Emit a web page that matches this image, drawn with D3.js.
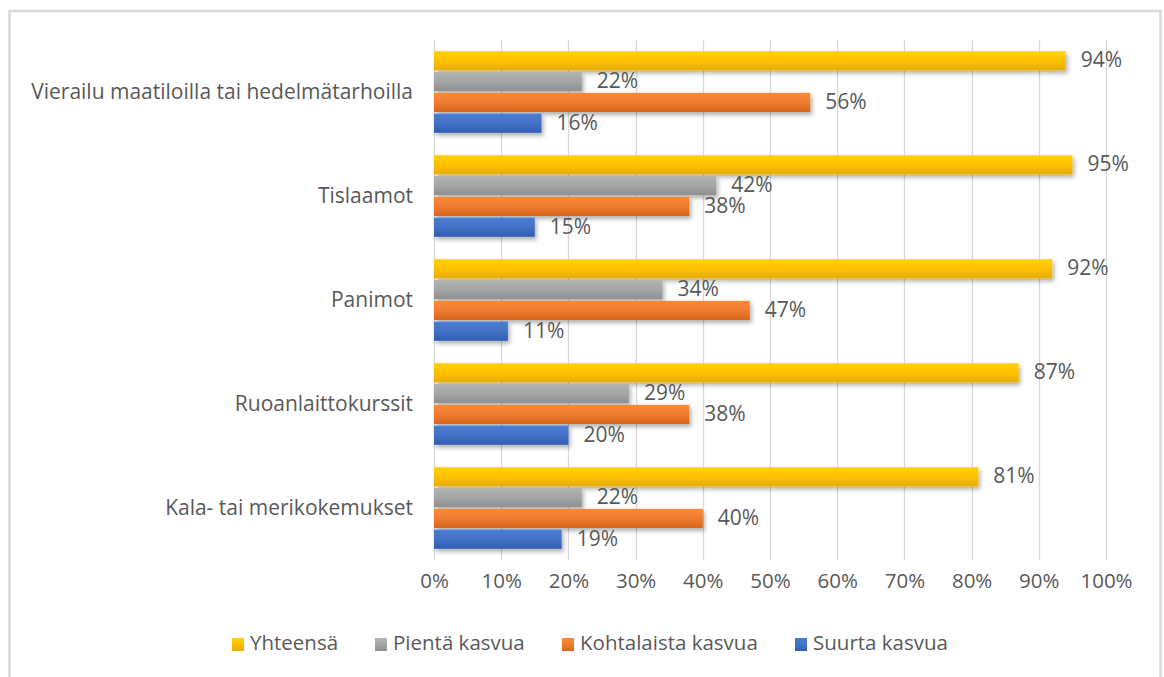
<!DOCTYPE html>
<html>
<head>
<meta charset="utf-8">
<script src="https://cdn.jsdelivr.net/npm/d3@7"></script>
<style>
  body { margin: 0; background: #fff; }
  text { font-family: "Open Sans", "Noto Sans", sans-serif; fill: #595959; }
</style>
</head>
<body>
<div id="chart"></div>
<script>
var categories = ["Vierailu maatiloilla tai hedelmätarhoilla", "Tislaamot", "Panimot", "Ruoanlaittokurssit", "Kala- tai merikokemukset"]
var seriesNames = ["Yhteensä", "Pientä kasvua", "Kohtalaista kasvua", "Suurta kasvua"]
var yhteensa = [94, 95, 92, 87, 81]
var pienta = [22, 42, 34, 29, 22]
var kohtalaista = [56, 38, 47, 38, 40]
var suurta = [16, 15, 11, 20, 19]
var ticks = [0, 10, 20, 30, 40, 50, 60, 70, 80, 90, 100]
var colors = ["#FFC000", "#A5A5A5", "#ED7D31", "#4472C4"]
var darkColors = ["#E8AC00", "#8F8F8F", "#D9651B", "#2F5DB5"]

var values = [yhteensa, pienta, kohtalaista, suurta]

var width = 1164, height = 677

var svg = d3.select('#chart')
    .append('svg')
    .attr('width', width)
    .attr('height', height)

var defs = svg.append('defs')
var shadow = defs.append('filter')
    .attr('id', 'shadow')
    .attr('x', '-5%').attr('y', '-30%')
    .attr('width', '115%').attr('height', '180%')
shadow.append('feDropShadow')
    .attr('dx', 2).attr('dy', 3)
    .attr('stdDeviation', 2)
    .attr('flood-color', '#000')
    .attr('flood-opacity', 0.3)

colors.forEach(function(c, i) {
    var g = defs.append('linearGradient')
        .attr('id', 'grad' + i)
        .attr('x1', 0).attr('y1', 0).attr('x2', 0).attr('y2', 1)
    g.append('stop').attr('offset', '0%').attr('stop-color', d3.color(c).brighter(0.25))
    g.append('stop').attr('offset', '50%').attr('stop-color', c)
    g.append('stop').attr('offset', '100%').attr('stop-color', darkColors[i])
})

// frame
svg.append('rect')
    .attr('x', 9.5).attr('y', 11)
    .attr('width', 1151).attr('height', 700)
    .attr('fill', 'none')
    .attr('stroke', '#d9d9d9')
    .attr('stroke-width', 2.5)

var scaleX = d3.scaleLinear()
    .domain([0, 100])
    .range([434, 1106])

var scaleY = d3.scaleBand()
    .domain(categories)
    .range([40, 560])
    .paddingInner(0.2)
    .paddingOuter(0.1)

var scaleSeries = d3.scaleBand()
    .domain(seriesNames)
    .range([0, scaleY.bandwidth()])

// gridlines
svg.append('g')
    .selectAll('line')
    .data(ticks)
    .enter()
    .append('line')
    .attr('x1', function(d){return Math.round(scaleX(d)) + 0.5})
    .attr('x2', function(d){return Math.round(scaleX(d)) + 0.5})
    .attr('y1', 40)
    .attr('y2', 560)
    .attr('stroke', '#d9d9d9')
    .attr('stroke-width', 1.3)

// x axis
var xAxis = svg.append('g')
    .attr('transform', 'translate(0,560)')
    .call(d3.axisBottom(scaleX).tickValues(ticks).tickSize(0).tickPadding(13).tickFormat(function(d){return d + '%'}))
xAxis.select('.domain').remove()
xAxis.selectAll('text')
    .style('font-size', '20.5px')
    .attr('fill', '#595959')

// y axis
var yAxis = svg.append('g')
    .attr('transform', 'translate(434,0)')
    .call(d3.axisLeft(scaleY).tickSize(0).tickPadding(21))
yAxis.select('.domain').remove()
yAxis.selectAll('text')
    .style('font-size', '21px')
    .attr('fill', '#595959')

// bars
var rows = []
categories.forEach(function(c, ci) {
    seriesNames.forEach(function(s, si) {
        rows.push({cat: c, series: s, si: si, value: values[si][ci]})
    })
})

var rectG = svg.append('g')
rectG.selectAll('rect')
    .data(rows)
    .enter()
    .append('rect')
    .attr('x', scaleX(0))
    .attr('y', function(d){return scaleY(d.cat) + scaleSeries(d.series) + 0.8})
    .attr('width', function(d){return scaleX(d.value) - scaleX(0)})
    .attr('height', scaleSeries.bandwidth() - 1.6)
    .attr('fill', function(d){return 'url(#grad' + d.si + ')'})
    .attr('filter', 'url(#shadow)')

svg.append('g')
    .selectAll('text')
    .data(rows)
    .enter()
    .append('text')
    .attr('x', function(d){return scaleX(d.value) + 15})
    .attr('y', function(d){return scaleY(d.cat) + scaleSeries(d.series) + scaleSeries.bandwidth() / 2 + 1})
    .attr('dominant-baseline', 'middle')
    .style('font-size', '21px')
    .text(function(d){return d.value + '%'})

// legend
var legendX = [232, 375, 562, 795]
var legend = svg.append('g')
    .selectAll('g')
    .data(seriesNames)
    .enter()
    .append('g')
    .attr('transform', function(d, i){return 'translate(' + legendX[i] + ',638)'})
legend.append('rect')
    .attr('width', 12).attr('height', 13)
    .attr('fill', function(d, i){return 'url(#grad' + i + ')'})
legend.append('text')
    .attr('x', 18)
    .attr('y', 7)
    .attr('dominant-baseline', 'middle')
    .style('font-size', '20.5px')
    .text(function(d){return d})
</script>
</body>
</html>
